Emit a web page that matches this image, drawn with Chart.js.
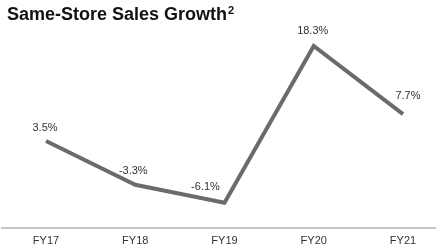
<!DOCTYPE html>
<html>
<head>
<meta charset="utf-8">
<script src="https://cdn.jsdelivr.net/npm/chart.js@4"></script>
<style>
html,body{margin:0;padding:0;background:#fff;}
#wrap{position:relative;width:436px;height:250px;}
</style>
</head>
<body>
<div id="wrap"><canvas id="c" width="436" height="250"></canvas></div>
<script>
const categories = ["FY17", "FY18", "FY19", "FY20", "FY21"];
const growth = [3.5, -3.3, -6.1, 18.3, 7.7];
const titleText = "Same-Store Sales Growth";
const titleNote = "2";

const labelOffsets = [[-1, -13], [-2, -14], [-19, -16], [-1, -15], [5, -18]];

const titlePlugin = {
  id: 'customTitle',
  afterDraw(chart) {
    const ctx = chart.ctx;
    ctx.save();
    ctx.font = 'bold 18px "Liberation Sans", Arial, sans-serif';
    ctx.fillStyle = '#111';
    ctx.textBaseline = 'alphabetic';
    ctx.textAlign = 'left';
    ctx.fillText(titleText, 7, 20);
    const w = ctx.measureText(titleText).width;
    ctx.font = 'bold 11px "Liberation Sans", Arial, sans-serif';
    ctx.fillText(titleNote, 7 + w + 1, 14);
    ctx.restore();
  }
};

const valueLabels = {
  id: 'valueLabels',
  afterDatasetsDraw(chart) {
    const ctx = chart.ctx;
    const meta = chart.getDatasetMeta(0);
    ctx.save();
    ctx.font = '11px "Liberation Sans", Arial, sans-serif';
    ctx.fillStyle = '#333';
    ctx.textAlign = 'center';
    ctx.textBaseline = 'middle';
    meta.data.forEach((pt, i) => {
      const o = labelOffsets[i];
      ctx.fillText(growth[i].toFixed(1) + '%', pt.x + o[0], pt.y + o[1]);
    });
    ctx.restore();
  }
};

new Chart(document.getElementById('c'), {
  type: 'line',
  data: {
    datasets: [{
      data: growth.map((v, i) => ({x: i, y: v})),
      borderColor: '#6b6b6b',
      borderWidth: 4,
      pointRadius: 0,
      tension: 0,
      fill: false,
      borderJoinStyle: 'miter'
    }]
  },
  options: {
    responsive: false,
    animation: false,
    layout: {padding: {left: 2, right: 0, top: 35, bottom: -5}},
    plugins: {legend: {display: false}, tooltip: {enabled: false}, title: {display: false}},
    scales: {
      x: {
        type: 'linear',
        min: -0.493,
        max: 4.37,
        grid: {display: false, drawTicks: false},
        border: {display: true, color: '#c4c4c4', width: 2},
        ticks: {
          stepSize: 1,
          includeBounds: false,
          autoSkip: false,
          maxRotation: 0,
          padding: 7,
          color: '#333',
          font: {size: 11, family: '"Liberation Sans", Arial, sans-serif'},
          callback: (v) => (Number.isInteger(v) && categories[v]) ? categories[v] : ''
        }
      },
      y: {
        display: false,
        min: -10,
        max: 20
      }
    }
  },
  plugins: [valueLabels, titlePlugin]
});
</script>
</body>
</html>
